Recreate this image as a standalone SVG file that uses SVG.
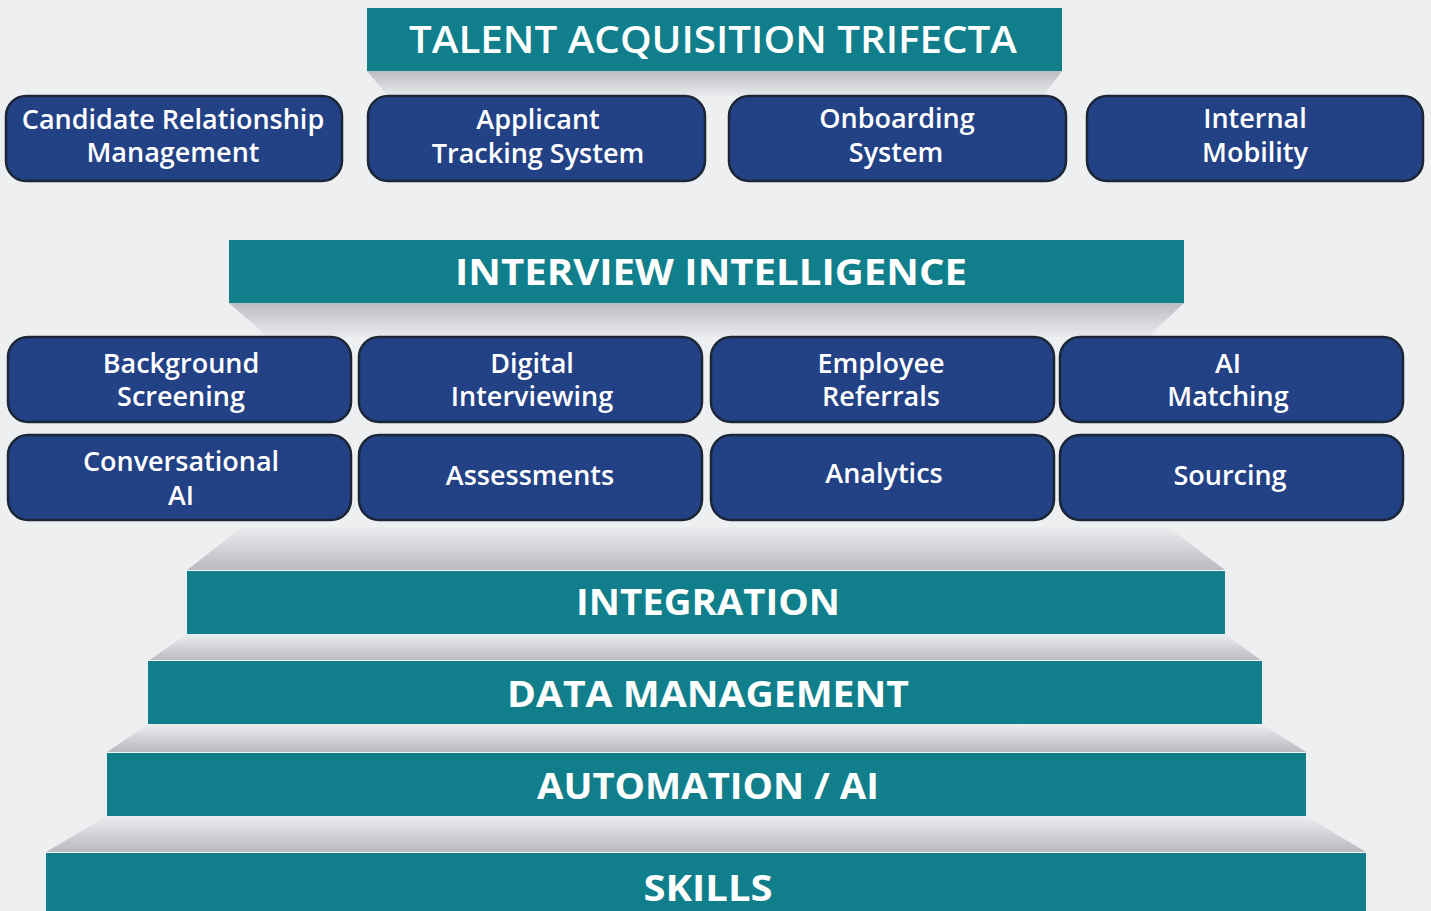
<svg xmlns="http://www.w3.org/2000/svg" width="1431" height="911" viewBox="0 0 1431 911">
  <defs>
    <linearGradient id="shadeDown" x1="0" y1="0" x2="0" y2="1">
      <stop offset="0" stop-color="#bcbdc1"/>
      <stop offset="1" stop-color="#e9eaec"/>
    </linearGradient>
    <linearGradient id="shadeUp" x1="0" y1="0" x2="0" y2="1">
      <stop offset="0" stop-color="#ecedef"/>
      <stop offset="1" stop-color="#b9babf"/>
    </linearGradient>
    <style>
      .bar { fill: #107f8b; }
      .box { fill: #234185; stroke: #1b2636; stroke-width: 2.5; }
      .head { font-family: "Open Sans", "Liberation Sans", sans-serif; font-weight: 700; fill: #ffffff; text-anchor: middle; }
      .label { font-family: "Open Sans", "Liberation Sans", sans-serif; font-size: 27px; font-weight: 600; fill: #ffffff; text-anchor: middle; }
      .edge { stroke: #f4f5f6; stroke-width: 1; }
    </style>
  </defs>

  <rect width="1431" height="911" fill="#eeeff1"/>

  <!-- bevel shadows under the banners and the stair steps -->
  <g id="shading">
    <polygon points="367,71 1062,71 1043,96 388,96" fill="url(#shadeDown)"/>
    <polygon points="229,303 1184,303 1148,337 268,337" fill="url(#shadeDown)"/>
    <polygon points="242,527 1168,527 1225,570 187,570" fill="url(#shadeUp)"/>
    <polygon points="187,634 1225,634 1262,661 148,661" fill="url(#shadeUp)"/>
    <polygon points="148,724 1262,724 1306,752 107,752" fill="url(#shadeUp)"/>
    <polygon points="107,816 1306,816 1366,852 46,852" fill="url(#shadeUp)"/>
  </g>

  <!-- heading banners -->
  <g id="talent-acquisition-trifecta">
    <rect class="bar" x="367" y="8" width="695" height="63"/>
    <text class="head" x="713" y="53" font-size="37" textLength="608" lengthAdjust="spacingAndGlyphs" style="font-weight:600">TALENT ACQUISITION TRIFECTA</text>
  </g>
  <g id="interview-intelligence">
    <rect class="bar" x="229" y="240" width="955" height="63"/>
    <text class="head" x="711" y="285" font-size="36" textLength="512" lengthAdjust="spacingAndGlyphs">INTERVIEW INTELLIGENCE</text>
  </g>

  <!-- top row -->
  <g id="crm">
    <rect class="box" x="6" y="96" width="336" height="85" rx="20"/>
    <text class="label" x="173" y="129">Candidate Relationship</text>
    <text class="label" x="173" y="162">Management</text>
  </g>
  <g id="ats">
    <rect class="box" x="368" y="96" width="337" height="85" rx="20"/>
    <text class="label" x="538" y="129">Applicant</text>
    <text class="label" x="538" y="163">Tracking System</text>
  </g>
  <g id="onboarding">
    <rect class="box" x="729" y="96" width="337" height="85" rx="20"/>
    <text class="label" x="897" y="128">Onboarding</text>
    <text class="label" x="896" y="162">System</text>
  </g>
  <g id="internal-mobility">
    <rect class="box" x="1087" y="96" width="336" height="85" rx="20"/>
    <text class="label" x="1255" y="128">Internal</text>
    <text class="label" x="1255" y="162">Mobility</text>
  </g>

  <!-- interview intelligence tools -->
  <g id="background-screening">
    <rect class="box" x="8" y="337" width="343" height="85" rx="20"/>
    <text class="label" x="181" y="373">Background</text>
    <text class="label" x="181" y="406">Screening</text>
  </g>
  <g id="digital-interviewing">
    <rect class="box" x="359" y="337" width="343" height="85" rx="20"/>
    <text class="label" x="532" y="373">Digital</text>
    <text class="label" x="532" y="406">Interviewing</text>
  </g>
  <g id="employee-referrals">
    <rect class="box" x="711" y="337" width="343" height="85" rx="20"/>
    <text class="label" x="881" y="373">Employee</text>
    <text class="label" x="881" y="406">Referrals</text>
  </g>
  <g id="ai-matching">
    <rect class="box" x="1060" y="337" width="343" height="85" rx="20"/>
    <text class="label" x="1228" y="373">AI</text>
    <text class="label" x="1228" y="406">Matching</text>
  </g>
  <g id="conversational-ai">
    <rect class="box" x="8" y="435" width="343" height="85" rx="20"/>
    <text class="label" x="181" y="471">Conversational</text>
    <text class="label" x="181" y="505">AI</text>
  </g>
  <g id="assessments">
    <rect class="box" x="359" y="435" width="343" height="85" rx="20"/>
    <text class="label" x="530" y="485">Assessments</text>
  </g>
  <g id="analytics">
    <rect class="box" x="711" y="435" width="343" height="85" rx="20"/>
    <text class="label" x="884" y="483">Analytics</text>
  </g>
  <g id="sourcing">
    <rect class="box" x="1060" y="435" width="343" height="85" rx="20"/>
    <text class="label" x="1230" y="485">Sourcing</text>
  </g>

  <!-- foundation steps -->
  <g id="integration">
    <rect class="bar" x="187" y="571" width="1038" height="63"/>
    <line class="edge" x1="187" y1="570.5" x2="1225" y2="570.5"/>
    <text class="head" x="708" y="615" font-size="36" textLength="264" lengthAdjust="spacingAndGlyphs">INTEGRATION</text>
  </g>
  <g id="data-management">
    <rect class="bar" x="148" y="661" width="1114" height="63"/>
    <line class="edge" x1="148" y1="660.5" x2="1262" y2="660.5"/>
    <text class="head" x="708" y="707" font-size="36" textLength="402" lengthAdjust="spacingAndGlyphs">DATA MANAGEMENT</text>
  </g>
  <g id="automation-ai">
    <rect class="bar" x="107" y="753" width="1199" height="63"/>
    <line class="edge" x1="107" y1="752.5" x2="1306" y2="752.5"/>
    <text class="head" x="708" y="799" font-size="36" textLength="342" lengthAdjust="spacingAndGlyphs">AUTOMATION / AI</text>
  </g>
  <g id="skills">
    <rect class="bar" x="46" y="853" width="1320" height="58"/>
    <line class="edge" x1="46" y1="852.5" x2="1366" y2="852.5"/>
    <text class="head" x="708" y="901" font-size="36" textLength="129" lengthAdjust="spacingAndGlyphs">SKILLS</text>
  </g>
</svg>
